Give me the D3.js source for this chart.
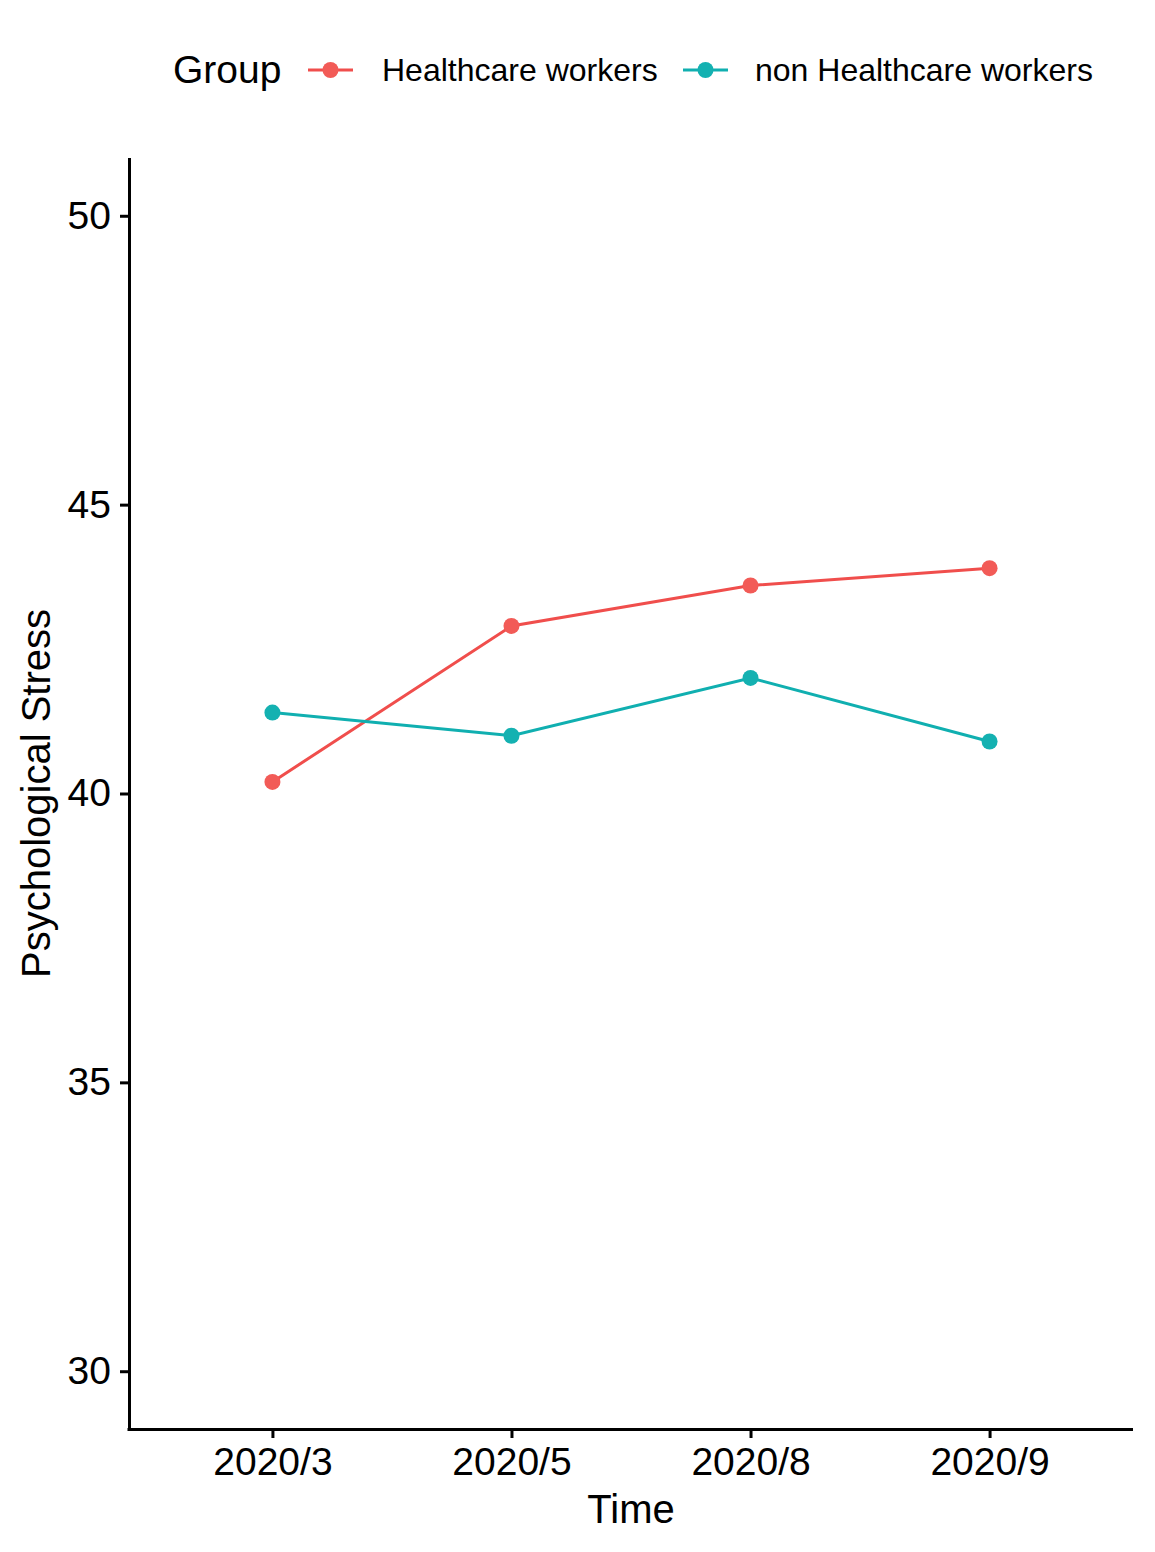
<!DOCTYPE html>
<html><head><meta charset="utf-8">
<script src="https://cdn.jsdelivr.net/npm/d3@7"></script>
<style>body{margin:0;background:#fff}svg{display:block;font-family:"Liberation Sans",Arial,sans-serif}</style>
</head><body><svg id="c" width="1155" height="1552"></svg>
<script>
const categories = ["2020/3","2020/5","2020/8","2020/9"];
const seriesNames = ["Healthcare workers","non Healthcare workers"];
const healthcare = [40.2, 42.9, 43.6, 43.9];
const nonHealthcare = [41.4, 41.0, 42.0, 40.9];
const yTicks = [30, 35, 40, 45, 50];
const colors = ["#F04E4C", "#10AFB0"];
const pointColors = ["#F25B57", "#14B1B1"];

const svg = d3.select("#c");
const L = 129, R = 1133, T = 158, B = 1429;
const x = d3.scalePoint().domain(categories).range([L, R]).padding(0.6);
const y = d3.scaleLinear().domain([29, 51]).range([B, T]);

const gx = svg.append("g").attr("transform", `translate(0,${B})`)
  .call(d3.axisBottom(x).tickSize(9).tickPadding(9));
const gy = svg.append("g").attr("transform", `translate(${L},0)`)
  .call(d3.axisLeft(y).tickValues(yTicks).tickSize(9).tickPadding(9));
[gx, gy].forEach(g => {
  g.attr("font-size", null).attr("font-family", null);
  g.select(".domain").attr("stroke", "#000").attr("stroke-width", 3);
  g.selectAll(".tick line").attr("stroke", "#000").attr("stroke-width", 3);
  g.selectAll(".tick text").attr("fill", "#000").style("font-size", "39px");
});
gx.select(".domain").attr("d", `M${L-1.5},0.5H${R}`);
gy.select(".domain").attr("d", `M0.5,${T}V${B+1.5}`);
gx.selectAll(".tick text").attr("dy", "0.71em");

svg.append("text").attr("x", (L + R) / 2).attr("y", 1523).attr("text-anchor", "middle")
  .style("font-size", "40px").text("Time");
svg.append("text").attr("transform", `translate(50,${(T + B) / 2}) rotate(-90)`)
  .attr("text-anchor", "middle").style("font-size", "40px").text("Psychological Stress");

const series = [healthcare, nonHealthcare];
const line = d3.line().x((d, i) => x(categories[i])).y(d => y(d));
series.forEach((s, k) => {
  svg.append("path").datum(s).attr("d", line).attr("fill", "none")
    .attr("stroke", colors[k]).attr("stroke-width", 3);
  svg.selectAll(null).data(s).enter().append("circle")
    .attr("cx", (d, i) => x(categories[i])).attr("cy", d => y(d)).attr("r", 8)
    .attr("fill", pointColors[k]);
});

// legend
const lg = svg.append("g");
lg.append("text").attr("x", 173).attr("y", 83).style("font-size", "39px").text("Group");
const items = [{x: 308, tx: 382}, {x: 683, tx: 755}];
items.forEach((it, k) => {
  lg.append("line").attr("x1", it.x).attr("x2", it.x + 45).attr("y1", 70).attr("y2", 70)
    .attr("stroke", colors[k]).attr("stroke-width", 3);
  lg.append("circle").attr("cx", it.x + 22.5).attr("cy", 70).attr("r", 8).attr("fill", pointColors[k]);
  lg.append("text").attr("x", it.tx).attr("y", 81).style("font-size", "32px").text(seriesNames[k]);
});
</script></body></html>
